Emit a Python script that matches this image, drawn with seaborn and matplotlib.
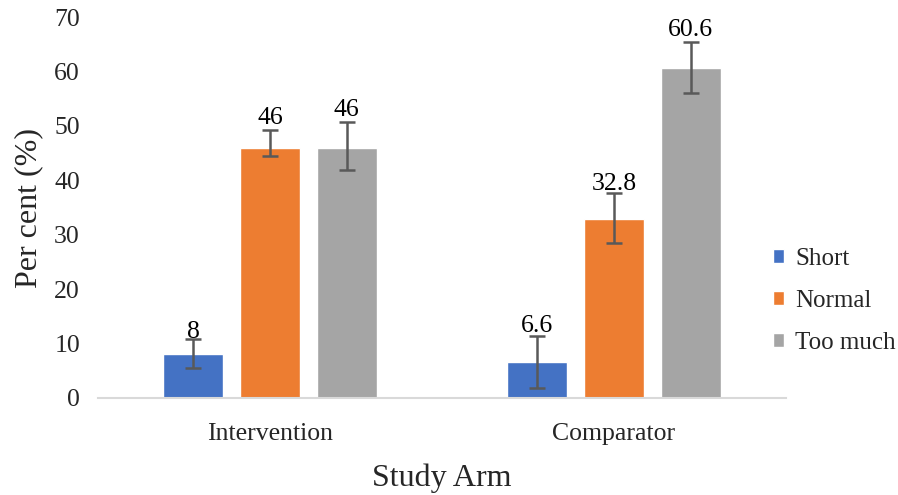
import matplotlib
matplotlib.use("Agg")
import matplotlib.pyplot as plt
import seaborn as sns
import pandas as pd
import numpy as np

arms = ["Intervention", "Comparator"]
categories = ["Short", "Normal", "Too much"]
short_vals = [8, 6.6]
normal_vals = [46, 32.8]
toomuch_vals = [46, 60.6]
# error bar ends (lower, upper)
short_low = [5.6, 1.8]
short_high = [10.8, 11.4]
normal_low = [44.5, 28.5]
normal_high = [49.2, 37.6]
toomuch_low = [41.8, 56.1]
toomuch_high = [50.7, 65.4]

sns.set_theme(style="white")
plt.rcParams["font.family"] = ["Liberation Serif", "DejaVu Serif"]

rows = []
vals = {"Short": short_vals, "Normal": normal_vals, "Too much": toomuch_vals}
lows = {"Short": short_low, "Normal": normal_low, "Too much": toomuch_low}
highs = {"Short": short_high, "Normal": normal_high, "Too much": toomuch_high}
for c in categories:
    for i, a in enumerate(arms):
        rows.append({"arm": a, "cat": c, "val": vals[c][i],
                     "lo": lows[c][i], "hi": highs[c][i]})
df = pd.DataFrame(rows)

palette = {"Short": "#4472C4", "Normal": "#ED7D31", "Too much": "#A5A5A5"}

fig = plt.figure(figsize=(8.98, 4.95), dpi=100)
ax = fig.add_axes([98 / 898, 1 - 398 / 495, (786 - 98) / 898, (398 - 17) / 495])

sns.barplot(data=df, x="arm", y="val", hue="cat", order=arms, hue_order=categories,
            palette=palette, width=0.668, gap=0.215, errorbar=None, ax=ax,
            saturation=1)

label_offsets = [16, 30, 24, 29, 32, 32]  # pixels above bar top
patches = [p for p in ax.patches if p.get_height() > 0]
for k, (p, (_, r)) in enumerate(zip(patches, df.iterrows())):
    xc = p.get_x() + p.get_width() / 2
    h = p.get_height()
    ax.errorbar([xc], [h], yerr=[[h - r["lo"]], [r["hi"] - h]], fmt="none",
                ecolor="#595959", elinewidth=1.8, capsize=6, capthick=1.8, zorder=5)
    ax.annotate(f"{r['val']:g}", (xc, h),
                xytext=(0, label_offsets[k] * 0.72), textcoords="offset points",
                ha="center", va="baseline", fontsize=18.5, color="black")

ax.set_ylim(0, 70)
ax.set_xlim(-0.5, 1.5)
ax.set_yticks(np.arange(0, 71, 10))
for s in ["top", "right", "left"]:
    ax.spines[s].set_visible(False)
ax.spines["bottom"].set_color("#d9d9d9")
ax.spines["bottom"].set_linewidth(1.5)
ax.tick_params(axis="y", length=0, pad=13, labelsize=18.5)
ax.tick_params(axis="x", length=0, pad=18, labelsize=18.5)
ax.set_ylabel("Per cent (%)", fontsize=23, labelpad=8)
ax.set_xlabel("Study Arm", fontsize=23, labelpad=13)

ax.legend_.remove()
handles, labels = ax.get_legend_handles_labels()
fig.legend(handles, labels, loc="center left", bbox_to_anchor=(750 / 898, 1 - 301 / 495),
           frameon=False, fontsize=18, handlelength=0.45, handleheight=0.45,
           handletextpad=0.45, labelspacing=0.8)

fig.savefig("out.png", dpi=100)
